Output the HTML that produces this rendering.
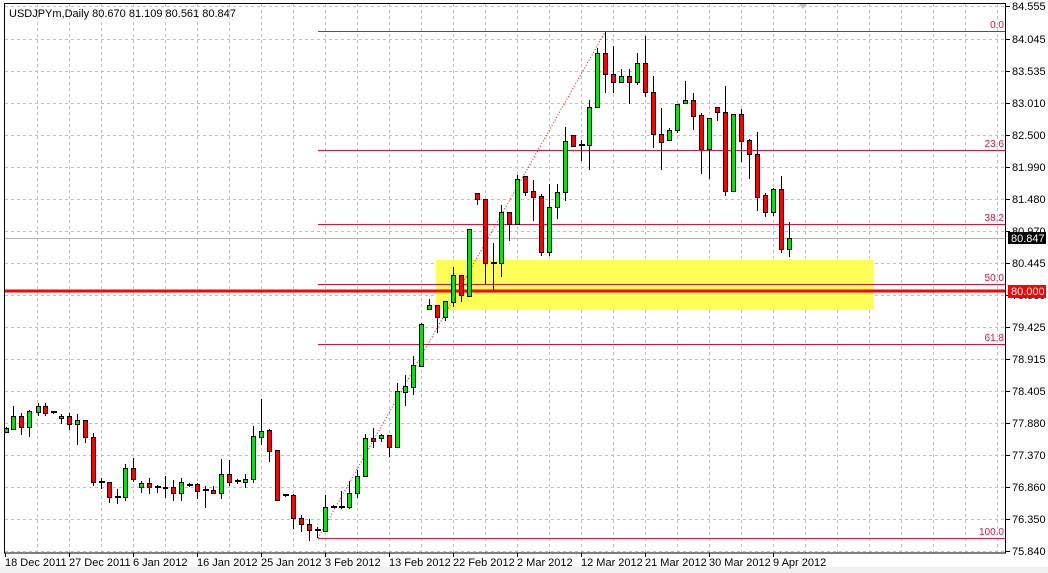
<!DOCTYPE html>
<html><head><meta charset="utf-8"><style>
html,body{margin:0;padding:0;background:#fff;}
svg{display:block;font-family:"Liberation Sans",sans-serif;}
</style></head><body>
<svg width="1048" height="573" viewBox="0 0 1048 573" xmlns="http://www.w3.org/2000/svg">
<rect x="0" y="0" width="1048" height="573" fill="#fff"/>
<rect x="0" y="567" width="1048" height="6" fill="#f0f0f0"/>
<!-- grid -->
<g stroke="#c0c0c0" stroke-width="1" stroke-dasharray="3,3">
<line x1="37.5" y1="4" x2="37.5" y2="553"/><line x1="69.5" y1="4" x2="69.5" y2="553"/><line x1="101.5" y1="4" x2="101.5" y2="553"/><line x1="133.5" y1="4" x2="133.5" y2="553"/><line x1="165.5" y1="4" x2="165.5" y2="553"/><line x1="197.5" y1="4" x2="197.5" y2="553"/><line x1="229.5" y1="4" x2="229.5" y2="553"/><line x1="261.5" y1="4" x2="261.5" y2="553"/><line x1="293.5" y1="4" x2="293.5" y2="553"/><line x1="325.5" y1="4" x2="325.5" y2="553"/><line x1="357.5" y1="4" x2="357.5" y2="553"/><line x1="389.5" y1="4" x2="389.5" y2="553"/><line x1="421.5" y1="4" x2="421.5" y2="553"/><line x1="453.5" y1="4" x2="453.5" y2="553"/><line x1="485.5" y1="4" x2="485.5" y2="553"/><line x1="517.5" y1="4" x2="517.5" y2="553"/><line x1="549.5" y1="4" x2="549.5" y2="553"/><line x1="581.5" y1="4" x2="581.5" y2="553"/><line x1="613.5" y1="4" x2="613.5" y2="553"/><line x1="645.5" y1="4" x2="645.5" y2="553"/><line x1="677.5" y1="4" x2="677.5" y2="553"/><line x1="709.5" y1="4" x2="709.5" y2="553"/><line x1="741.5" y1="4" x2="741.5" y2="553"/><line x1="773.5" y1="4" x2="773.5" y2="553"/><line x1="805.5" y1="4" x2="805.5" y2="553"/><line x1="837.5" y1="4" x2="837.5" y2="553"/><line x1="869.5" y1="4" x2="869.5" y2="553"/><line x1="901.5" y1="4" x2="901.5" y2="553"/><line x1="933.5" y1="4" x2="933.5" y2="553"/><line x1="965.5" y1="4" x2="965.5" y2="553"/><line x1="997.5" y1="4" x2="997.5" y2="553"/>
<line x1="5" y1="6.5" x2="1005" y2="6.5"/><line x1="5" y1="39.5" x2="1005" y2="39.5"/><line x1="5" y1="71.5" x2="1005" y2="71.5"/><line x1="5" y1="103.5" x2="1005" y2="103.5"/><line x1="5" y1="135.5" x2="1005" y2="135.5"/><line x1="5" y1="167.5" x2="1005" y2="167.5"/><line x1="5" y1="199.5" x2="1005" y2="199.5"/><line x1="5" y1="231.5" x2="1005" y2="231.5"/><line x1="5" y1="263.5" x2="1005" y2="263.5"/><line x1="5" y1="295.5" x2="1005" y2="295.5"/><line x1="5" y1="327.5" x2="1005" y2="327.5"/><line x1="5" y1="359.5" x2="1005" y2="359.5"/><line x1="5" y1="391.5" x2="1005" y2="391.5"/><line x1="5" y1="423.5" x2="1005" y2="423.5"/><line x1="5" y1="455.5" x2="1005" y2="455.5"/><line x1="5" y1="487.5" x2="1005" y2="487.5"/><line x1="5" y1="519.5" x2="1005" y2="519.5"/><line x1="5" y1="551.5" x2="1005" y2="551.5"/>
</g>
<!-- yellow zone -->
<rect x="436" y="260" width="438" height="50" fill="#ffff55"/>
<!-- bid line -->
<line x1="5" y1="238.5" x2="1005" y2="238.5" stroke="#b4b4b4" stroke-width="1"/>
<!-- fib -->
<g stroke="#dc143c" stroke-width="1">
<line x1="318" y1="31.5" x2="1005" y2="31.5"/>
<line x1="318" y1="150.5" x2="1005" y2="150.5"/>
<line x1="318" y1="224.5" x2="1005" y2="224.5"/>
<line x1="318" y1="284.5" x2="1005" y2="284.5"/>
<line x1="318" y1="344.5" x2="1005" y2="344.5"/>
<line x1="318" y1="538.5" x2="1005" y2="538.5"/>
<line x1="318" y1="538" x2="605" y2="32" stroke="#ff0000" stroke-dasharray="1,2"/>
</g>
<g fill="#dc143c" font-size="10" text-anchor="end">
<text x="1004" y="28">0.0</text>
<text x="1004" y="147">23.6</text>
<text x="1004" y="221">38.2</text>
<text x="1004" y="281">50.0</text>
<text x="1004" y="341">61.8</text>
<text x="1004" y="535">100.0</text>
</g>
<!-- 80.000 line -->
<rect x="4" y="289.5" width="1002" height="3" fill="#ff0000"/>
<!-- candles -->
<g stroke="#000" stroke-width="1">
<path d="M6.5 427V433M13.5 406V430M21.5 413V435M29.5 410V437M38.5 403V416M45.5 403V416M53.5 411V414M61.5 414V424M69.5 413V430M77.5 414V445M85.5 420V443M93.5 433V486M101.5 478V489M109.5 482V503M117.5 489V504M125.5 464V501M133.5 458V482M141.5 481V493M149.5 478V494M157.5 485V493M165.5 476V498M173.5 480V501M181.5 478V501M189.5 483V487M197.5 483V499M205.5 486V508M213.5 486V493M221.5 459V499M229.5 460V486M237.5 479V484M245.5 474V488M253.5 426V483M261.5 399V445M269.5 429V462M277.5 450V501M285.5 494V497M293.5 494V529M301.5 515V532M309.5 519V541M317.5 527V538M325.5 495V531M333.5 505V508M341.5 491V509M349.5 481V509M357.5 470V498M365.5 434V477M373.5 428V448M381.5 434V442M389.5 435V457M397.5 383V447M405.5 375V406M413.5 356V395M421.5 323V366M429.5 299V310M437.5 305V333M445.5 301V321M453.5 267V307M461.5 275V302M469.5 229V296M477.5 193V205M485.5 199V284M493.5 243V292M501.5 205V277M509.5 212V241M517.5 175V224M525.5 176V196M533.5 180V221M541.5 194V256M549.5 184V256M557.5 184V219M565.5 127V201M573.5 135V146M581.5 140V161M589.5 100V170M597.5 48V108M605.5 32V93M613.5 46V93M621.5 69V83M629.5 69V104M637.5 53V85M645.5 36V97M653.5 76V148M661.5 108V170M669.5 128V140M677.5 104V133M685.5 81V103M693.5 93V130M701.5 113V174M709.5 118V179M717.5 107V121M725.5 86V196M733.5 114V191M741.5 109V162M749.5 139V179M757.5 132V211M765.5 193V217M773.5 188V216M781.5 176V253M789.5 222V257"/>
</g>
<g stroke="#000" stroke-width="1">
<!-- green -->
<g fill="#00e600">
<rect x="4.5" y="428.5" width="4" height="4"/><rect x="11.5" y="416.5" width="4" height="13"/><rect x="27.5" y="411.5" width="4" height="16"/><rect x="36.5" y="406.5" width="4" height="6"/><rect x="59.5" y="416.5" width="4" height="2"/><rect x="75.5" y="420.5" width="4" height="4"/><rect x="123.5" y="468.5" width="4" height="29"/><rect x="139.5" y="483.5" width="4" height="4"/><rect x="179.5" y="482.5" width="4" height="11"/><rect x="219.5" y="474.5" width="4" height="19"/><rect x="243.5" y="479.5" width="4" height="3"/><rect x="251.5" y="436.5" width="4" height="43"/><rect x="259.5" y="431.5" width="4" height="6"/><rect x="323.5" y="507.5" width="4" height="24"/><rect x="347.5" y="493.5" width="4" height="14"/><rect x="355.5" y="476.5" width="4" height="17"/><rect x="363.5" y="438.5" width="4" height="38"/><rect x="379.5" y="435.5" width="4" height="3"/><rect x="395.5" y="391.5" width="4" height="56"/><rect x="403.5" y="386.5" width="4" height="6"/><rect x="411.5" y="365.5" width="4" height="22"/><rect x="419.5" y="324.5" width="4" height="42"/><rect x="427.5" y="305.5" width="4" height="4"/><rect x="443.5" y="301.5" width="4" height="16"/><rect x="451.5" y="275.5" width="4" height="27"/><rect x="467.5" y="229.5" width="4" height="67"/><rect x="499.5" y="212.5" width="4" height="51"/><rect x="515.5" y="179.5" width="4" height="45"/><rect x="547.5" y="207.5" width="4" height="45"/><rect x="555.5" y="192.5" width="4" height="15"/><rect x="563.5" y="141.5" width="4" height="51"/><rect x="587.5" y="107.5" width="4" height="38"/><rect x="595.5" y="53.5" width="4" height="54"/><rect x="619.5" y="76.5" width="4" height="6"/><rect x="635.5" y="63.5" width="4" height="19"/><rect x="667.5" y="130.5" width="4" height="10"/><rect x="675.5" y="104.5" width="4" height="26"/><rect x="683.5" y="100.5" width="4" height="3"/><rect x="707.5" y="118.5" width="4" height="31"/><rect x="731.5" y="114.5" width="4" height="77"/><rect x="771.5" y="189.5" width="4" height="23"/><rect x="787.5" y="238.5" width="4" height="11"/>
</g>
<!-- red -->
<g fill="#ff0000">
<rect x="19.5" y="416.5" width="4" height="11"/><rect x="43.5" y="406.5" width="4" height="7"/><rect x="67.5" y="416.5" width="4" height="8"/><rect x="83.5" y="420.5" width="4" height="17"/><rect x="91.5" y="437.5" width="4" height="45"/><rect x="107.5" y="482.5" width="4" height="15"/><rect x="131.5" y="468.5" width="4" height="11"/><rect x="147.5" y="483.5" width="4" height="4"/><rect x="163.5" y="487.5" width="4" height="1"/><rect x="171.5" y="487.5" width="4" height="6"/><rect x="195.5" y="484.5" width="4" height="7"/><rect x="211.5" y="490.5" width="4" height="3"/><rect x="227.5" y="474.5" width="4" height="8"/><rect x="267.5" y="430.5" width="4" height="21"/><rect x="275.5" y="450.5" width="4" height="50"/><rect x="291.5" y="495.5" width="4" height="23"/><rect x="299.5" y="518.5" width="4" height="6"/><rect x="307.5" y="524.5" width="4" height="6"/><rect x="371.5" y="438.5" width="4" height="3"/><rect x="387.5" y="435.5" width="4" height="12"/><rect x="435.5" y="305.5" width="4" height="12"/><rect x="459.5" y="275.5" width="4" height="20"/><rect x="475.5" y="193.5" width="4" height="6"/><rect x="483.5" y="199.5" width="4" height="64"/><rect x="507.5" y="212.5" width="4" height="12"/><rect x="523.5" y="176.5" width="4" height="16"/><rect x="531.5" y="191.5" width="4" height="6"/><rect x="539.5" y="196.5" width="4" height="56"/><rect x="571.5" y="135.5" width="4" height="11"/><rect x="603.5" y="53.5" width="4" height="21"/><rect x="611.5" y="74.5" width="4" height="8"/><rect x="627.5" y="76.5" width="4" height="6"/><rect x="643.5" y="63.5" width="4" height="29"/><rect x="651.5" y="92.5" width="4" height="42"/><rect x="659.5" y="134.5" width="4" height="8"/><rect x="691.5" y="100.5" width="4" height="16"/><rect x="699.5" y="115.5" width="4" height="34"/><rect x="715.5" y="107.5" width="4" height="5"/><rect x="723.5" y="112.5" width="4" height="79"/><rect x="739.5" y="114.5" width="4" height="27"/><rect x="747.5" y="140.5" width="4" height="14"/><rect x="755.5" y="154.5" width="4" height="43"/><rect x="763.5" y="195.5" width="4" height="17"/><rect x="779.5" y="189.5" width="4" height="60"/>
</g>
</g>
<!-- dojis -->
<g fill="#000">
<rect x="51" y="411" width="6" height="2"/><rect x="99" y="481" width="6" height="2"/><rect x="115" y="496" width="6" height="2"/><rect x="155" y="486" width="6" height="2"/><rect x="187" y="484" width="6" height="2"/><rect x="203" y="489" width="6" height="2"/><rect x="235" y="480" width="6" height="2"/><rect x="283" y="494" width="6" height="2"/><rect x="315" y="529" width="6" height="2"/><rect x="331" y="506" width="6" height="2"/><rect x="339" y="506" width="6" height="2"/><rect x="491" y="262" width="6" height="2"/><rect x="579" y="144" width="6" height="2"/>
</g>
<!-- frame -->
<rect x="4.5" y="3.5" width="1001" height="549.5" fill="none" stroke="#000" stroke-width="1"/>
<polygon points="799,4 807,4 803,9" fill="#c0c0c0"/>
<!-- title -->
<text x="9" y="17" font-size="11" fill="#000">USDJPYm,Daily  80.670 81.109 80.561 80.847</text>
<!-- price axis ticks & labels -->
<g stroke="#000"><path d="M1006 6.5h4M1006 39.5h4M1006 71.5h4M1006 103.5h4M1006 135.5h4M1006 167.5h4M1006 199.5h4M1006 231.5h4M1006 263.5h4M1006 295.5h4M1006 327.5h4M1006 359.5h4M1006 391.5h4M1006 423.5h4M1006 455.5h4M1006 487.5h4M1006 519.5h4M1006 551.5h4"/></g>
<g font-size="11" fill="#000">
<text x="1012" y="10">84.555</text><text x="1012" y="43">84.045</text><text x="1012" y="75">83.535</text><text x="1012" y="107">83.010</text><text x="1012" y="139">82.500</text><text x="1012" y="171">81.990</text><text x="1012" y="203">81.480</text><text x="1012" y="235">80.970</text><text x="1012" y="267">80.445</text><text x="1012" y="299">79.935</text><text x="1012" y="331">79.425</text><text x="1012" y="363">78.915</text><text x="1012" y="395">78.405</text><text x="1012" y="427">77.880</text><text x="1012" y="459">77.370</text><text x="1012" y="491">76.860</text><text x="1012" y="523">76.350</text><text x="1012" y="555">75.840</text>
</g>
<rect x="1008" y="232" width="38" height="12" fill="#000"/>
<text x="1011" y="242" font-size="11" fill="#fff">80.847</text>
<rect x="1008" y="285" width="38" height="13" fill="#ff0000"/>
<text x="1011" y="295" font-size="11" fill="#fff">80.000</text>
<!-- date axis -->
<g stroke="#000"><path d="M5.5 553v4M69.5 553v4M133.5 553v4M197.5 553v4M261.5 553v4M325.5 553v4M389.5 553v4M453.5 553v4M517.5 553v4M581.5 553v4M645.5 553v4M709.5 553v4M773.5 553v4"/></g>
<g font-size="11" fill="#000">
<text x="5" y="566">18 Dec 2011</text><text x="69" y="566">27 Dec 2011</text><text x="133" y="566">6 Jan 2012</text><text x="197" y="566">16 Jan 2012</text><text x="261" y="566">25 Jan 2012</text><text x="325" y="566">3 Feb 2012</text><text x="389" y="566">13 Feb 2012</text><text x="453" y="566">22 Feb 2012</text><text x="517" y="566">2 Mar 2012</text><text x="581" y="566">12 Mar 2012</text><text x="645" y="566">21 Mar 2012</text><text x="709" y="566">30 Mar 2012</text><text x="773" y="566">9 Apr 2012</text>
</g>
</svg>
</body></html>
